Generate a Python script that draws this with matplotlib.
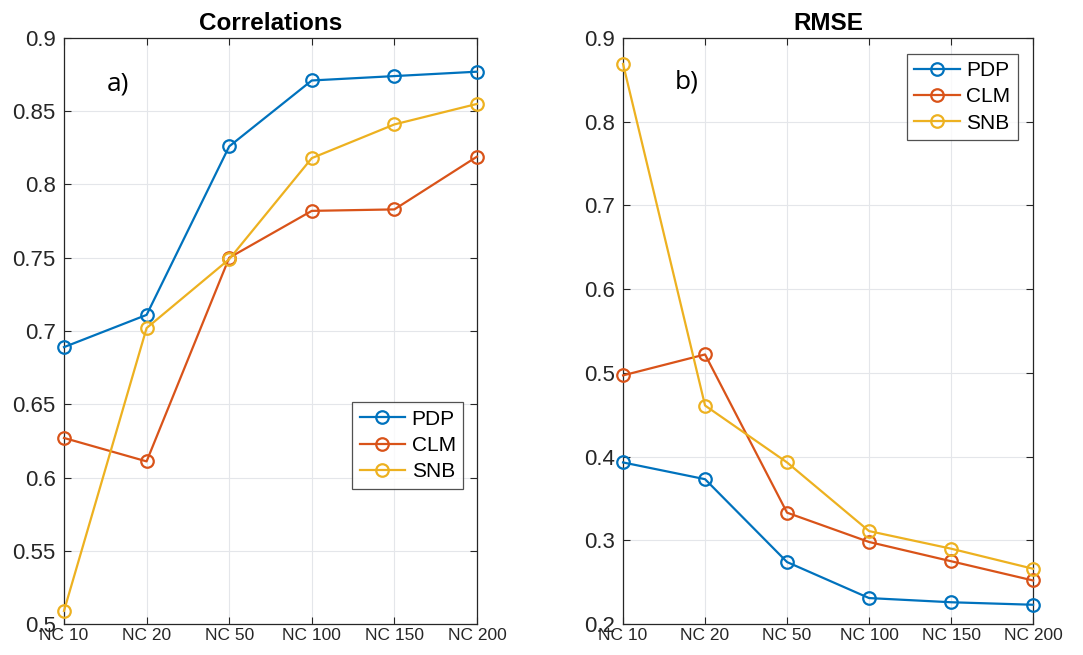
import matplotlib
matplotlib.use("Agg")
import matplotlib.pyplot as plt

plt.rcParams['font.family'] = ['Liberation Sans', 'DejaVu Sans']

categories = ["NC 10", "NC 20", "NC 50", "NC 100", "NC 150", "NC 200"]
series_names = ["PDP", "CLM", "SNB"]

corr_pdp = [0.689, 0.711, 0.826, 0.871, 0.874, 0.877]
corr_clm = [0.627, 0.611, 0.750, 0.782, 0.783, 0.819]
corr_snb = [0.509, 0.702, 0.749, 0.818, 0.841, 0.855]

rmse_pdp = [0.393, 0.373, 0.274, 0.231, 0.226, 0.223]
rmse_clm = [0.497, 0.522, 0.333, 0.298, 0.275, 0.252]
rmse_snb = [0.869, 0.461, 0.393, 0.311, 0.290, 0.266]

corr_ticks = [0.5, 0.55, 0.6, 0.65, 0.7, 0.75, 0.8, 0.85, 0.9]
corr_ticklabels = ["0.5", "0.55", "0.6", "0.65", "0.7", "0.75", "0.8", "0.85", "0.9"]
rmse_ticks = [0.2, 0.3, 0.4, 0.5, 0.6, 0.7, 0.8, 0.9]
rmse_ticklabels = ["0.2", "0.3", "0.4", "0.5", "0.6", "0.7", "0.8", "0.9"]

colors = ["#0072BD", "#D95319", "#EDB120"]
axis_color = "#262626"

fig = plt.figure(figsize=(10.83, 6.55), dpi=100)
ax1 = fig.add_axes([0.0591, 0.0473, 0.3813, 0.8947])
ax2 = fig.add_axes([0.5753, 0.0473, 0.3786, 0.8947])


def style_axes(ax, title, yticks, yticklabels, ylim):
    x = list(range(len(categories)))
    ax.set_xlim(0, len(categories) - 1)
    ax.set_ylim(*ylim)
    ax.set_xticks(x)
    ax.set_xticklabels(categories, fontsize=12.5)
    ax.set_yticks(yticks)
    ax.set_yticklabels(yticklabels, fontsize=16)
    ax.grid(True, color="#e4e6ea", linewidth=0.8)
    ax.set_axisbelow(True)
    ax.tick_params(axis="both", direction="in", length=5, width=0.8,
                   colors=axis_color, top=True, right=True)
    ax.tick_params(axis="x", pad=3)
    ax.tick_params(axis="y", pad=6)
    for s in ax.spines.values():
        s.set_color(axis_color)
        s.set_linewidth(0.9)
    ax.set_title(title, fontsize=17.5, fontweight="bold", pad=6, color="black")


def draw_series(ax, data):
    x = list(range(len(categories)))
    for name, vals, c in zip(series_names, data, colors):
        ax.plot(x, vals, color=c, linewidth=1.6, marker="o", markersize=9,
                markerfacecolor="none", markeredgecolor=c, markeredgewidth=1.6,
                label=name, clip_on=False, zorder=3)


legend_kw = dict(fontsize=15, frameon=True, fancybox=False, edgecolor=axis_color,
                 handlelength=2.2, borderpad=0.35, labelspacing=0.35,
                 handletextpad=0.3, borderaxespad=0)

draw_series(ax1, [corr_pdp, corr_clm, corr_snb])
style_axes(ax1, "Correlations", corr_ticks, corr_ticklabels, (0.5, 0.9))
leg1 = ax1.legend(loc="upper left", bbox_to_anchor=(0.698, 0.378), **legend_kw)
leg1.get_frame().set_linewidth(0.9)
ax1.text(0.103, 0.922, "a)", transform=ax1.transAxes, fontsize=19,
         family=["Open Sans", "DejaVu Sans"], va="center", ha="left")

draw_series(ax2, [rmse_pdp, rmse_clm, rmse_snb])
style_axes(ax2, "RMSE", rmse_ticks, rmse_ticklabels, (0.2, 0.9))
leg2 = ax2.legend(loc="upper right", bbox_to_anchor=(0.963, 0.973), **legend_kw)
leg2.get_frame().set_linewidth(0.9)
ax2.text(0.125, 0.925, "b)", transform=ax2.transAxes, fontsize=19,
         family=["Open Sans", "DejaVu Sans"], va="center", ha="left")

fig.savefig("out.png", dpi=100)
